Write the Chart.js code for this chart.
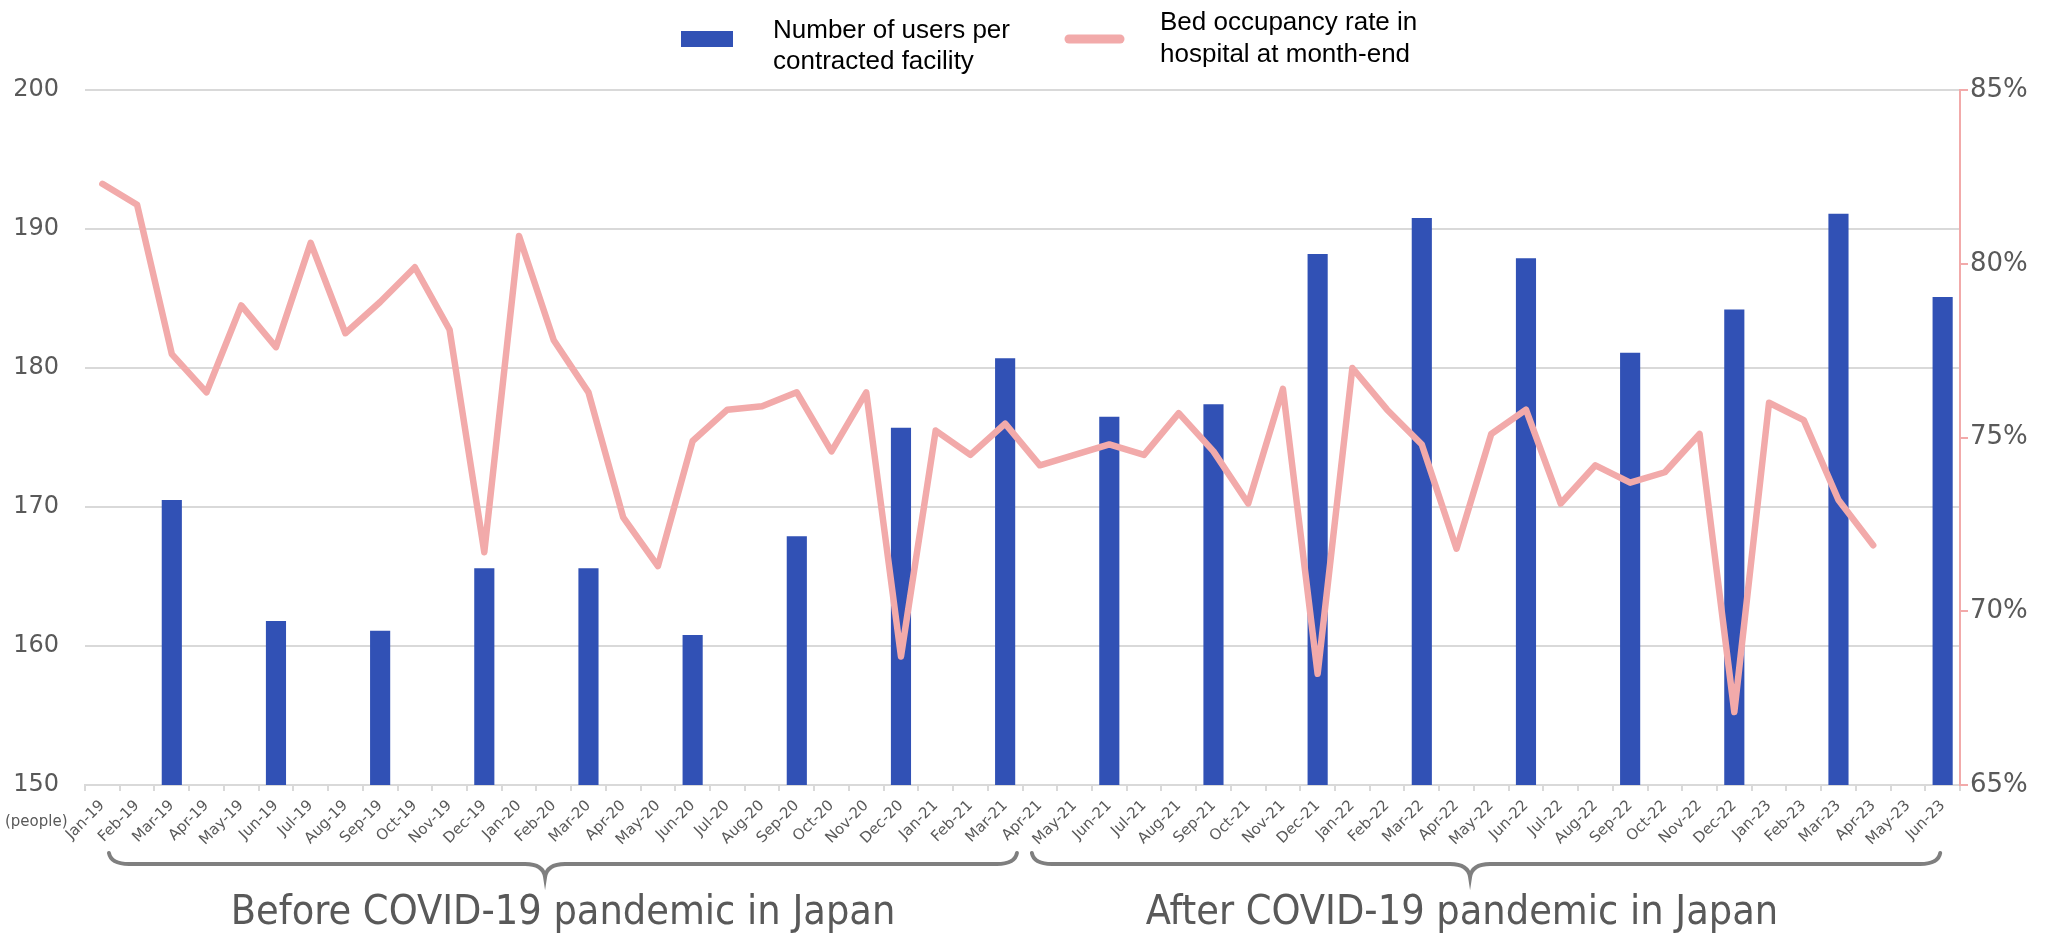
<!DOCTYPE html>
<html lang="en">
<head>
  <meta charset="UTF-8" />
  <title>Users per facility and bed occupancy rate</title>
  <script src="https://cdn.jsdelivr.net/npm/chart.js"></script>
  <style>
    body { margin: 0; background: #fff; }
    .wrap { width: 2045px; height: 935px; }
  </style>
</head>
<body>
  <div class="wrap"><canvas id="chart"></canvas></div>

  <script>
    const months = [
      'Jan-19','Feb-19','Mar-19','Apr-19','May-19','Jun-19','Jul-19','Aug-19','Sep-19','Oct-19','Nov-19','Dec-19',
      'Jan-20','Feb-20','Mar-20','Apr-20','May-20','Jun-20','Jul-20','Aug-20','Sep-20','Oct-20','Nov-20','Dec-20',
      'Jan-21','Feb-21','Mar-21','Apr-21','May-21','Jun-21','Jul-21','Aug-21','Sep-21','Oct-21','Nov-21','Dec-21',
      'Jan-22','Feb-22','Mar-22','Apr-22','May-22','Jun-22','Jul-22','Aug-22','Sep-22','Oct-22','Nov-22','Dec-22',
      'Jan-23','Feb-23','Mar-23','Apr-23','May-23','Jun-23'
    ];

    // quarterly values, null for the months without a bar
    const usersPerFacility = [
      null, null, 170.5, null, null, 161.8, null, null, 161.1, null, null, 165.6,
      null, null, 165.6, null, null, 160.8, null, null, 167.9, null, null, 175.7,
      null, null, 180.7, null, null, 176.5, null, null, 177.4, null, null, 188.2,
      null, null, 190.8, null, null, 187.9, null, null, 181.1, null, null, 184.2,
      null, null, 191.1, null, null, 185.1
    ];

    // bed occupancy rate (%), no data for May-23 and Jun-23
    const bedOccupancy = [
      82.3, 81.7, 77.4, 76.3, 78.8, 77.6, 80.6, 78.0, 78.9, 79.9, 78.1, 71.7,
      80.8, 77.8, 76.3, 72.7, 71.3, 74.9, 75.8, 75.9, 76.3, 74.6, 76.3, 68.7,
      75.2, 74.5, 75.4, 74.2, 74.5, 74.8, 74.5, 75.7, 74.6, 73.1, 76.4, 68.2,
      77.0, 75.8, 74.8, 71.8, 75.1, 75.8, 73.1, 74.2, 73.7, 74.0, 75.1, 67.1,
      76.0, 75.5, 73.2, 71.9, null, null
    ];

    const leftTicks = [150, 160, 170, 180, 190, 200];
    const rightTicks = [65, 70, 75, 80, 85];
    const periods = ['Before COVID-19 pandemic in Japan', 'After COVID-19 pandemic in Japan'];
    const legendUsers = ['Number of users per', 'contracted facility'];
    const legendBeds = ['Bed occupancy rate in', 'hospital at month-end'];

    const BLUE = '#3151b5';
    const PINK = '#f2aaaa';
    const GREY = '#595959';

    // legend, unit label, braces and period captions
    const decor = {
      id: 'decor',
      afterDraw(chart) {
        const ctx = chart.ctx;
        const x = chart.scales.x;
        const u = x.width / months.length;
        const px = v => x.left + v * u;

        ctx.save();
        // legend
        ctx.fillStyle = BLUE;
        ctx.fillRect(681, 31, 52, 16);
        ctx.strokeStyle = PINK;
        ctx.lineWidth = 9;
        ctx.lineCap = 'round';
        ctx.beginPath();
        ctx.moveTo(1069, 39);
        ctx.lineTo(1120, 39);
        ctx.stroke();

        ctx.fillStyle = '#000';
        ctx.font = '26px "Liberation Sans", Arial, sans-serif';
        ctx.textAlign = 'left';
        ctx.textBaseline = 'alphabetic';
        ctx.fillText(legendUsers[0], 773, 38);
        ctx.fillText(legendUsers[1], 773, 69);
        ctx.fillText(legendBeds[0], 1160, 30);
        ctx.fillText(legendBeds[1], 1160, 62);

        // unit
        ctx.fillStyle = GREY;
        ctx.font = '15px "DejaVu Sans", sans-serif';
        ctx.textBaseline = 'middle';
        ctx.fillText('(people)', 5, 822);

        // braces
        ctx.strokeStyle = '#7f7f7f';
        ctx.lineWidth = 4;
        ctx.lineCap = 'round';
        const brace = (a, m, b) => {
          const x0 = px(a), xm = px(m), x1 = px(b);
          const yt = 853, yl = 864, yb = 877, r = 20;
          ctx.beginPath();
          ctx.moveTo(x0, yt);
          ctx.quadraticCurveTo(x0 + 2, yl, x0 + r, yl);
          ctx.lineTo(xm - r, yl);
          ctx.quadraticCurveTo(xm - 2, yl, xm, yb);
          ctx.quadraticCurveTo(xm + 2, yl, xm + r, yl);
          ctx.lineTo(x1 - r, yl);
          ctx.quadraticCurveTo(x1 - 2, yl, x1, yt);
          ctx.stroke();
        };
        brace(0.69, 13.25, 26.84);
        brace(27.27, 39.89, 53.43);

        ctx.fillStyle = GREY;
        ctx.font = '41px "DejaVu Sans Condensed", "DejaVu Sans", sans-serif';
        ctx.textAlign = 'center';
        ctx.textBaseline = 'middle';
        ctx.fillText(periods[0], 563, 913);
        ctx.fillText(periods[1], 1462, 913);
        ctx.restore();
      }
    };

    new Chart(document.getElementById('chart'), {
      data: {
        labels: months,
        datasets: [
          {
            type: 'line',
            label: legendBeds.join(' '),
            data: bedOccupancy,
            yAxisID: 'y1',
            borderColor: PINK,
            borderWidth: 6.5,
            borderJoinStyle: 'round',
            borderCapStyle: 'round',
            pointRadius: 0,
            tension: 0,
            order: 0
          },
          {
            type: 'bar',
            label: legendUsers.join(' '),
            data: usersPerFacility,
            yAxisID: 'y',
            backgroundColor: BLUE,
            barPercentage: 0.58,
            categoryPercentage: 1,
            order: 1
          }
        ]
      },
      options: {
        responsive: true,
        maintainAspectRatio: false,
        animation: false,
        layout: { padding: { top: 90, left: 0, right: 0, bottom: 0 } },
        plugins: {
          legend: { display: false },
          tooltip: { enabled: false }
        },
        scales: {
          x: {
            offset: true,
            afterFit: s => { s.height = 150; },
            grid: {
              display: true,
              offset: true,
              drawOnChartArea: false,
              drawTicks: true,
              tickLength: 6,
              color: '#d9d9d9',
              lineWidth: 2
            },
            border: { display: true, color: '#d9d9d9', width: 2 },
            ticks: {
              autoSkip: false,
              minRotation: 45,
              maxRotation: 45,
              padding: 6,
              color: GREY,
              font: { family: '"DejaVu Sans", sans-serif', size: 15 }
            }
          },
          y: {
            position: 'left',
            min: leftTicks[0],
            max: leftTicks[leftTicks.length - 1],
            afterFit: s => { s.width = 85; },
            afterBuildTicks: s => { s.ticks = leftTicks.map(v => ({ value: v })); },
            grid: { color: '#d9d9d9', lineWidth: 2, drawTicks: false },
            border: { display: false },
            ticks: {
              padding: 26,
              color: GREY,
              font: { family: '"DejaVu Sans", sans-serif', size: 24 }
            }
          },
          y1: {
            position: 'right',
            min: rightTicks[0],
            max: rightTicks[rightTicks.length - 1],
            afterFit: s => { s.width = 85; },
            afterBuildTicks: s => { s.ticks = rightTicks.map(v => ({ value: v })); },
            grid: {
              drawOnChartArea: false,
              drawTicks: true,
              tickLength: 8,
              color: PINK,
              lineWidth: 2
            },
            border: { display: true, color: PINK, width: 2 },
            ticks: {
              padding: 2,
              color: GREY,
              font: { family: '"DejaVu Sans", sans-serif', size: 26 },
              callback: v => v + '%'
            }
          }
        }
      },
      plugins: [decor]
    });
  </script>
</body>
</html>
